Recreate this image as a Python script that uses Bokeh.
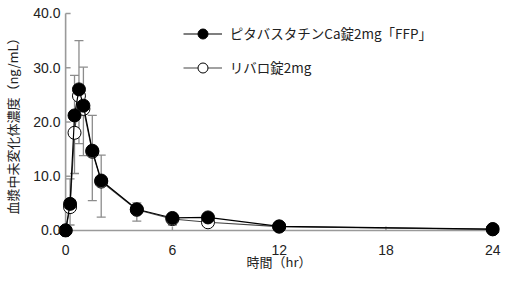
import math
from bokeh.plotting import figure
from bokeh.models import (Range1d, FixedTicker, PrintfTickFormatter, Whisker,
                          ColumnDataSource, Legend, LegendItem, TeeHead)
from bokeh.embed import file_html
from bokeh.resources import INLINE

# ---- data ----
time_hr = [0, 0.25, 0.5, 0.75, 1, 1.5, 2, 4, 6, 8, 12, 24]
test_mean = [0, 4.9, 21.2, 26.0, 23.0, 14.7, 9.2, 3.9, 2.3, 2.4, 0.75, 0.25]
ref_mean = [0, 4.3, 18.0, 24.8, 22.4, 14.5, 9.0, 3.8, 2.1, 1.5, 0.7, 0.2]
err_lower = [0, 1.0, 10.5, 16.0, 13.8, 5.5, 2.45, 1.7, 1.0, 1.2, 0.3, 0.05]
err_upper = [0, 9.5, 28.6, 35.0, 30.1, 21.2, 13.9, 5.1, 3.0, 3.0, 1.3, 0.5]
x_ticks = [0, 6, 12, 18, 24]
y_ticks = [0, 10, 20, 30, 40]
test_label = "ピタバスタチンCa錠2mg「FFP」"
ref_label = "リバロ錠2mg"
x_title = "時間（hr）"
y_title = "血漿中未変化体濃度（ng/mL）"

src = ColumnDataSource(dict(t=time_hr, test=test_mean, ref=ref_mean,
                            lo=err_lower, hi=err_upper))

p = figure(width=507, height=284, output_backend="svg", toolbar_location=None,
           x_range=Range1d(-0.4, 24.38), y_range=Range1d(-1.3, 40.91),
           min_border_left=58, min_border_right=8, min_border_top=8,
           min_border_bottom=47)
p.outline_line_color = None
p.grid.visible = False
p.background_fill_color = "white"

axis_col = "#9a9a9a"
for ax in (p.xaxis[0], p.yaxis[0]):
    ax.axis_line_color = None
    ax.major_tick_line_color = None
    ax.minor_tick_line_color = None
    ax.major_tick_out = 0
    ax.major_tick_in = 0
    ax.major_label_text_font = "Liberation Sans"
    ax.major_label_text_font_size = "14px"
    ax.major_label_text_color = "#222222"
    ax.axis_label_text_font = "Noto Sans CJK JP"
    ax.axis_label_text_font_size = "13px"
    ax.axis_label_text_font_style = "normal"
    ax.axis_label_text_color = "#222222"

p.xaxis.ticker = FixedTicker(ticks=x_ticks)
p.xaxis.major_label_standoff = 7
p.xaxis.axis_label = x_title
p.xaxis.axis_label_standoff = -6

p.yaxis.ticker = FixedTicker(ticks=y_ticks)
p.yaxis.major_label_standoff = -2
p.yaxis.formatter = PrintfTickFormatter(format="%.1f")
p.yaxis.axis_label = y_title
p.yaxis.axis_label_standoff = 8

# axis lines drawn at the data origin, with inward ticks
x0, x1 = min(x_ticks), max(x_ticks)
y0, y1 = min(y_ticks), max(y_ticks)
p.segment(x0=[x0], y0=[y0], x1=[x1], y1=[y0], line_color=axis_col, line_width=1.6)
p.segment(x0=[x0], y0=[y0], x1=[x0], y1=[y1], line_color=axis_col, line_width=1.6)
p.ray(x=[x0] * len(y_ticks), y=y_ticks, length=5, length_units="screen",
      angle=0, line_color=axis_col, line_width=1.4)
p.ray(x=x_ticks[1:], y=[y0] * (len(x_ticks) - 1), length=4, length_units="screen",
      angle=math.pi / 2, line_color=axis_col, line_width=1.4)

w = Whisker(source=src, base="t", lower="lo", upper="hi", dimension="height",
            line_color="#8c8c8c", line_width=1.3, level="underlay",
            upper_head=TeeHead(size=9, line_color="#8c8c8c", line_width=1.3),
            lower_head=TeeHead(size=9, line_color="#8c8c8c", line_width=1.3))
p.add_layout(w)

l2 = p.line("t", "ref", source=src, line_color="#444444", line_width=1.1)
s2 = p.scatter("t", "ref", source=src, size=13, marker="circle",
               fill_color="white", line_color="black", line_width=1)
l1 = p.line("t", "test", source=src, line_color="black", line_width=1.2)
s1 = p.scatter("t", "test", source=src, size=13, marker="circle",
               fill_color="black", line_color="black", line_width=1)

legend = Legend(items=[LegendItem(label=test_label, renderers=[l1, s1]),
                       LegendItem(label=ref_label, renderers=[l2, s2])],
                location=(124.8, 157.5), glyph_width=39, glyph_height=25,
                spacing=9, padding=0, margin=0, label_standoff=8,
                border_line_color=None, background_fill_alpha=0,
                label_text_font="Noto Sans CJK JP",
                label_text_font_size="13.5px", label_text_color="#222222")
p.add_layout(legend)

open("out.html", "w").write(file_html(p, INLINE))
